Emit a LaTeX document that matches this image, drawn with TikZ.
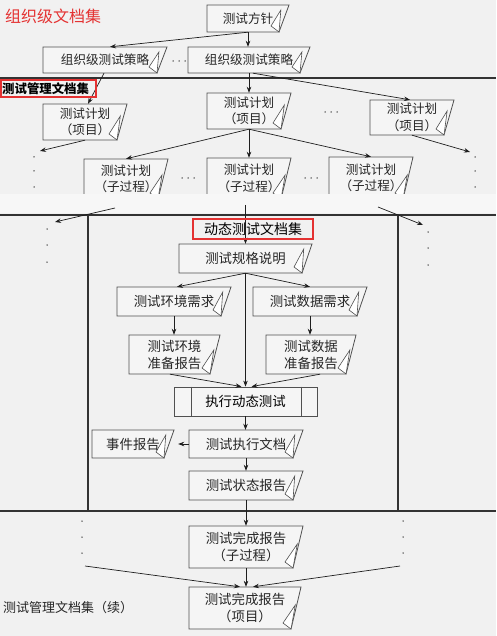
\documentclass[tikz,border=0pt]{standalone}
\usepackage{fontspec}
\newfontfamily\cjk{Noto Sans CJK SC}
\usetikzlibrary{arrows.meta}
\definecolor{bgc}{RGB}{241,241,241}
\definecolor{bandc}{RGB}{247,247,247}
\definecolor{boxfill}{RGB}{245,245,245}
\definecolor{linec}{RGB}{80,80,80}
\definecolor{arrc}{RGB}{30,30,30}
\definecolor{redc}{RGB}{228,50,50}
\tikzset{
  docline/.style={draw=linec, line width=0.8pt},
  doctext/.style={inner sep=0pt, align=center, text=black!85},
  topfont/.style={font=\cjk\fontsize{12.6}{16.5}\selectfont},
  botfont/.style={font=\cjk\fontsize{13.4}{17}\selectfont},
  arr/.style={draw=arrc, line width=0.7pt, -{Stealth[length=6pt,width=4.5pt]}},
  divider/.style={draw=black!80, line width=1.4pt},
  redbox/.style={draw=redc, line width=2pt},
  dotc/.style={fill=black!80},
}
% #1 name, #2 x0, #3 y0, #4 x1, #5 y1, #6 font style, #7 text
\newcommand\docbox[7]{%
  \pgfmathsetmacro\dbH{#5-#3}%
  \pgfmathsetmacro\dbT{min(24,\dbH-5)}%
  \pgfmathsetmacro\dbX{#4-10*\dbT/\dbH}%
  \path[docline, fill=boxfill] (#2,#3) -- (#4,#3) -- ({#4-10},#5) -- (#2,#5) -- cycle;
  \path[docline, fill=white, line width=0.6pt] ({#4-10},#5) -- ({#4-18},{#5-6}) -- (\dbX,{#5-\dbT}) -- cycle;
  \node[doctext, #6, minimum width={#4-#2}, minimum height={#5-#3}] (#1) at ({(#2+#4)/2},{(#3+#5)/2}) {#7};
}
\newcommand\hdts[2]{\fill[dotc] (#1,#2) circle (0.75) ({#1+6},#2) circle (0.75) ({#1+12},#2) circle (0.75);}
\newcommand\vdts[4]{\fill[dotc] (#1,#2) circle (0.75) (#1,#3) circle (0.75) (#1,#4) circle (0.75);}
\begin{document}
\begin{tikzpicture}[x=1pt,y=-1pt]
\fill[bgc] (0,0) rectangle (496,636);
\useasboundingbox (0,0) rectangle (496,636);
\fill[bandc] (0,194) rectangle (496,213);

% ---------- top part ----------
\node[text=redc, font=\cjk\fontsize{16}{18}\selectfont, anchor=west, inner sep=0pt] (orgtitle) at (5,16) {组织级文档集};

\docbox{policy}{207}{5}{289}{32}{topfont}{测试方针}
\docbox{stratL}{43}{47}{167}{73}{topfont}{组织级测试策略}
\docbox{stratR}{188}{47}{310}{73}{topfont}{组织级测试策略}
\hdts{173}{61}

\draw[divider] (0,78) -- (496,78);

\docbox{planL}{43}{104}{127}{140}{topfont}{测试计划\\（项目）}
\docbox{planM}{207}{93}{291}{129}{topfont}{测试计划\\（项目）}
\docbox{planR}{370}{100}{454}{135}{topfont}{测试计划\\（项目）}
\hdts{325}{112}

\begin{scope}
\clip (0,0) rectangle (496,194);
\docbox{subL}{84}{159}{168}{199}{topfont}{测试计划\\（子过程）}
\docbox{subM}{207}{158}{291}{199}{topfont}{测试计划\\（子过程）}
\docbox{subR}{329}{157}{413}{199}{topfont}{测试计划\\（子过程）}
\end{scope}
\hdts{182}{178}
\hdts{305}{178}

\coordinate (dL1) at (40,151);
\coordinate (dR1) at (470,152);
\vdts{34}{157}{171}{187}
\vdts{475}{157}{171}{187}

\draw[arr] (policy.south) -- (policy.south |- stratR.north);
\draw[arr] (policy.south) -- ([xshift=5pt]stratL.north);
\draw[arr] ([xshift=-1pt]stratL.south) -- ([xshift=3pt]planL.north);
\draw[arr] (stratR.south) -- (stratR.south |- planM.north);
\draw[arr] ([xshift=4pt]stratR.south) -- ([xshift=-2pt]planR.north);
\draw[arr] (planL.south) -- (dL1);
\draw[arr] (planR.south) -- (dR1);
\draw[arr] (planM.south) -- (subL.north);
\draw[arr] (planM.south) -- (planM.south |- subM.north);
\draw[arr] (planM.south) -- (subR.north);

% label over the line
\draw[redbox] (1,80) rectangle (96,97);
\node[font=\cjk\bfseries\fontsize{12.4}{14}\selectfont, fill=bgc, inner sep=0.5pt, anchor=west] (mgmtlabel) at (1.5,88.5) {测试管理文档集};

% ---------- bottom part ----------
\draw[divider] (0,215) -- (496,215);
\draw[divider] (88,215) -- (88,511);
\draw[divider] (398,215) -- (398,511);
\draw[divider] (0,511) -- (496,511);

\coordinate (a1) at (115,208);
\coordinate (a2) at (55,222);
\coordinate (b1) at (378,207);
\coordinate (b2) at (423,225);
\coordinate (c1) at (245.5,205);
\draw[arr] (a1) -- (a2);
\draw[arr] (b1) -- (b2);
\vdts{47}{229}{245}{262}
\vdts{428}{232}{248}{265}

\docbox{spec}{179}{244}{312}{273}{botfont}{测试规格说明}
\draw[arr] (c1) -- (c1 |- spec.north);

\draw[redbox] (193,219) rectangle (313,239);
\node[font=\cjk\fontsize{14}{16}\selectfont, inner sep=0pt] (dynlabel) at (253,229) {动态测试文档集};

\docbox{envreq}{117}{287}{231}{316}{botfont}{测试环境需求}
\docbox{datareq}{253}{287}{367}{316}{botfont}{测试数据需求}
\docbox{envrep}{129}{335}{220}{374}{botfont}{测试环境\\准备报告}
\docbox{datarep}{266}{335}{356}{374}{botfont}{测试数据\\准备报告}

\node[draw=linec, line width=0.8pt, fill=boxfill, minimum width=143pt, minimum height=29pt, inner sep=0pt, botfont] (exec) at (245.5,401.5) {执行动态测试};
\draw[linec, line width=0.8pt] ([xshift=18pt]exec.north west) -- ([xshift=18pt]exec.south west);
\draw[linec, line width=0.8pt] ([xshift=-16pt]exec.north east) -- ([xshift=-16pt]exec.south east);

\docbox{execdoc}{189}{430}{303}{458}{botfont}{测试执行文档}
\docbox{incident}{92}{430}{174}{458}{botfont}{事件报告}
\docbox{status}{189}{471}{303}{500}{botfont}{测试状态报告}
\docbox{compSub}{189}{526}{303}{568}{botfont}{测试完成报告\\（子过程）}
\docbox{compProj}{189}{587}{301}{629}{botfont}{测试完成报告\\（项目）}

\draw[arr] (spec.south) -- ([xshift=3pt]envreq.north);
\draw[arr] (spec.south) -- (datareq.north);
\draw[arr] (spec.south) -- (exec.north);
\draw[arr] (envreq.south) -- (envreq.south |- envrep.north);
\draw[arr] (datareq.south) -- (datareq.south |- datarep.north);
\draw[arr] ([xshift=-4.5pt]envrep.south) -- ([xshift=-4pt]exec.north);
\draw[arr] ([xshift=9pt]datarep.south) -- ([xshift=6pt]exec.north);
\draw[arr] (exec.south) -- (exec.south |- execdoc.north);
\draw[arr] (execdoc.west) -- ([xshift=4pt]incident.east);
\draw[arr] (execdoc.south) -- (execdoc.south |- status.north);
\draw[arr] (status.south) -- (status.south |- compSub.north);
\draw[arr] (compSub.south) -- (compSub.south |- compProj.north);

\vdts{82}{521}{537}{553}
\vdts{403}{521}{537}{553}
\coordinate (e1) at (85,566);
\coordinate (f1) at (400,566);
\draw[arr] (e1) -- ([xshift=-5pt]compProj.north);
\draw[arr] (f1) -- ([xshift=8pt]compProj.north);

\node[font=\cjk\fontsize{13}{15}\selectfont, anchor=west, inner sep=0pt, text=black!85] (contlabel) at (3,608) {测试管理文档集（续）};
\end{tikzpicture}
\end{document}
